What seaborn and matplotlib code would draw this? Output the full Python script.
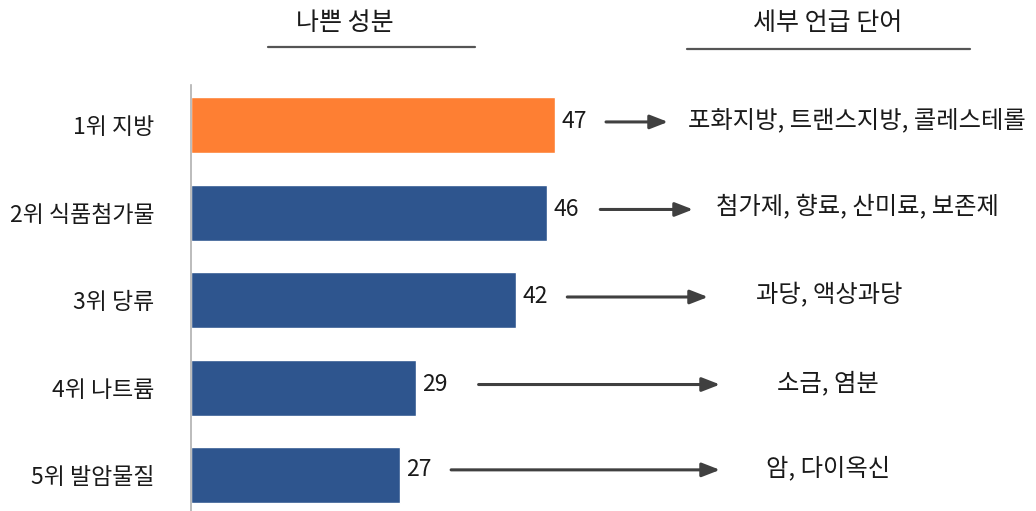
import matplotlib
matplotlib.use("Agg")
import matplotlib.pyplot as plt
import seaborn as sns
import pandas as pd

# ---- data ----
categories = ["1위 지방", "2위 식품첨가물", "3위 당류", "4위 나트륨", "5위 발암물질"]
values = [47, 46, 42, 29, 27]
details = ["포화지방, 트랜스지방, 콜레스테롤", "첨가제, 향료, 산미료, 보존제",
           "과당, 액상과당", "소금, 염분", "암, 다이옥신"]
header_left = "나쁜 성분"
header_right = "세부 언급 단어"

# ---- layout (px -> data units) ----
PX = 1 / 7.745            # data units per pixel on x
arrow_gap_px = [51, 53, 51, 63, 51]
arrow_end = [(668 - 191) * PX, (693 - 191) * PX, (708 - 191) * PX, (720 - 191) * PX, (720 - 191) * PX]
text_center = [(857 - 191) * PX, (857 - 191) * PX, (829 - 191) * PX, (828 - 191) * PX, (828 - 191) * PX]
row_shift = [-0.035, -0.035, -0.035, -0.035, -0.06]

sns.set_theme(style="white")
plt.rcParams["font.family"] = ["Noto Sans CJK KR", "DejaVu Sans"]

W, H = 1036, 511
fig = plt.figure(figsize=(W / 100, H / 100), dpi=100)
ax = fig.add_axes([191 / W, 0, (W - 191) / W, 1 - 85 / H])

df = pd.DataFrame({"cat": categories, "val": values})
palette = ["#FE7F33"] + ["#2E558E"] * 4
sns.barplot(data=df, y="cat", x="val", hue="cat", palette=palette, legend=False,
            orient="h", width=0.64, ax=ax, saturation=1)

ax.set_xlim(0, (W - 191) * PX)
ax.set_ylim(4.41, -0.457)
ax.set_xlabel("")
ax.set_ylabel("")
ax.set_xticks([])
ax.tick_params(axis="y", length=0, pad=26.5, labelsize=16.5, labelcolor="#1a1a1a")
for s in ["top", "right", "bottom"]:
    ax.spines[s].set_visible(False)
ax.spines["left"].set_color("#b0b0b0")
ax.spines["left"].set_linewidth(1.2)

fs = 17.5
for i, v in enumerate(values):
    y = i + row_shift[i]
    ax.text(v + 6 * PX, y, str(v), ha="left", va="center", fontsize=16.5, color="#1a1a1a")
    ax.annotate("", xy=(arrow_end[i], y), xytext=(v + arrow_gap_px[i] * PX, y),
                arrowprops=dict(arrowstyle="-|>,head_length=0.9,head_width=0.35",
                                color="#404040", lw=2.2, shrinkA=0, shrinkB=0))
    ax.text(text_center[i], y - 0.02, details[i], ha="center", va="center", fontsize=fs,
            color="#1a1a1a")

# headers
fig.text(345 / W, 1 - 23 / H, header_left, ha="center", va="center", fontsize=18, color="#1a1a1a")
fig.text(828 / W, 1 - 23 / H, header_right, ha="center", va="center", fontsize=18, color="#1a1a1a")
fig.add_artist(plt.Line2D([268 / W, 475 / W], [1 - 47 / H, 1 - 47 / H], color="#555555", lw=1.6))
fig.add_artist(plt.Line2D([687 / W, 970 / W], [1 - 49 / H, 1 - 49 / H], color="#555555", lw=1.6))

fig.savefig("out.png", dpi=100)
